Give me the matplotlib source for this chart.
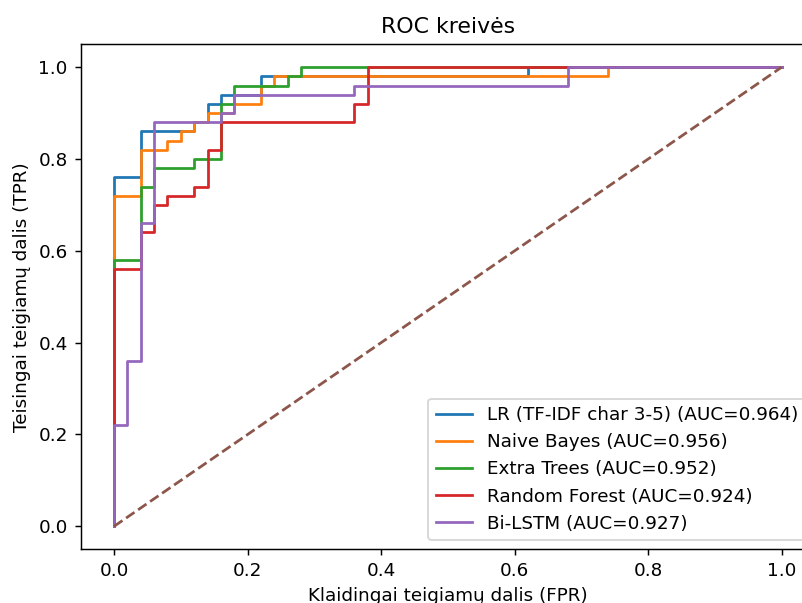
import matplotlib.pyplot as plt

# ROC points (corners of the step curves)
lr_fpr = [0, 0, 0.04, 0.04, 0.12, 0.12, 0.14, 0.14, 0.16, 0.16, 0.22, 0.22, 0.62, 0.62, 1.0]
lr_tpr = [0, 0.76, 0.76, 0.86, 0.86, 0.88, 0.88, 0.92, 0.92, 0.94, 0.94, 0.98, 0.98, 1.0, 1.0]

nb_fpr = [0, 0, 0.04, 0.04, 0.08, 0.08, 0.10, 0.10, 0.12, 0.12, 0.14, 0.14, 0.18, 0.18,
          0.22, 0.22, 0.24, 0.24, 0.74, 0.74, 1.0]
nb_tpr = [0, 0.72, 0.72, 0.82, 0.82, 0.84, 0.84, 0.86, 0.86, 0.88, 0.88, 0.90, 0.90, 0.92,
          0.92, 0.96, 0.96, 0.98, 0.98, 1.0, 1.0]

et_fpr = [0, 0, 0.04, 0.04, 0.06, 0.06, 0.12, 0.12, 0.16, 0.16, 0.18, 0.18, 0.26, 0.26, 0.28, 0.28, 1.0]
et_tpr = [0, 0.58, 0.58, 0.74, 0.74, 0.78, 0.78, 0.80, 0.80, 0.92, 0.92, 0.96, 0.96, 0.98, 0.98, 1.0, 1.0]

rf_fpr = [0, 0, 0.04, 0.04, 0.06, 0.06, 0.08, 0.08, 0.12, 0.12, 0.14, 0.14, 0.16, 0.16,
          0.36, 0.36, 0.38, 0.38, 1.0]
rf_tpr = [0, 0.56, 0.56, 0.64, 0.64, 0.70, 0.70, 0.72, 0.72, 0.74, 0.74, 0.82, 0.82, 0.88,
          0.88, 0.92, 0.92, 1.0, 1.0]

lstm_fpr = [0, 0, 0.02, 0.02, 0.04, 0.04, 0.06, 0.06, 0.16, 0.16, 0.18, 0.18, 0.36, 0.36, 0.68, 0.68, 1.0]
lstm_tpr = [0, 0.22, 0.22, 0.36, 0.36, 0.66, 0.66, 0.88, 0.88, 0.90, 0.90, 0.94, 0.94, 0.96, 0.96, 1.0, 1.0]

names = ['LR (TF-IDF char 3-5)', 'Naive Bayes', 'Extra Trees', 'Random Forest', 'Bi-LSTM']
aucs = [0.964, 0.956, 0.952, 0.924, 0.927]

curves = [(lr_fpr, lr_tpr), (nb_fpr, nb_tpr), (et_fpr, et_tpr), (rf_fpr, rf_tpr), (lstm_fpr, lstm_tpr)]

dpi = 132
fig = plt.figure(figsize=(802 / dpi, 603 / dpi), dpi=dpi)
# the original picture is cut on the right and bottom, so the axes run past the right edge
ax = fig.add_axes([0.1006, 0.0891, 0.9156, 0.8375])

for (fpr, tpr), name, auc in zip(curves, names, aucs):
    ax.plot(fpr, tpr, label=f'{name} (AUC={auc:.3f})')

ax.plot([0, 1], [0, 1], '--')

ax.set_xlabel('Klaidingai teigiamų dalis (FPR)')
ax.set_ylabel('Teisingai teigiamų dalis (TPR)')
ax.set_title('ROC kreivės')
ax.legend(loc='lower right')

fig.savefig('out.png', dpi=dpi)
